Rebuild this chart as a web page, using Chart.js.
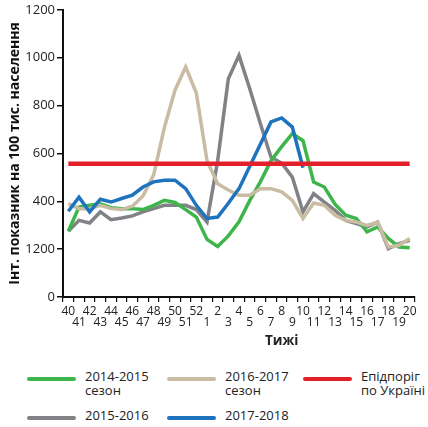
<!DOCTYPE html>
<html>
<head>
<meta charset="utf-8">
<script src="https://cdn.jsdelivr.net/npm/chart.js@4.4.1/dist/chart.umd.min.js"></script>
<style>
  body { margin: 0; background: #fff; font-family: 'Open Sans', sans-serif; color: #222; }
  #wrap { position: relative; width: 428px; height: 427px; }
  #box { position: absolute; left: 0; top: 0; width: 428px; height: 332px; }
  #xtitle { position: absolute; left: 265px; top: 331px; font-weight: bold; font-size: 13.5px; color: #222; }
  .lg { position: absolute; font-size: 13px; line-height: 13.5px; color: #222; white-space: pre; }
  .lg i { position: absolute; left: 0; width: 49px; height: 3.5px; border-radius: 2px; }
  .lg span { position: absolute; left: 58px; top: -7px; }
</style>
</head>
<body>
<div id="wrap">
  <div id="box"><canvas id="chart"></canvas></div>
  <div id="xtitle">Тижі</div>
  <div id="legend"></div>
</div>
<script>
// тижні епідсезону
const weeks = ['40','41','42','43','44','45','46','47','48','49','50','51','52',
  '1','2','3','4','5','6','7','8','9','10','11','12','13','14','15','16','17','18','19','20'];

const season1415 = [280,383,390,397,380,376,376,372,390,411,402,372,340,245,215,260,320,
  410,490,580,640,695,665,489,468,395,348,334,277,298,249,213,210];
const season1516 = [280,326,315,362,329,336,345,362,376,390,390,390,372,319,580,929,1028,
  887,738,595,570,510,362,440,404,369,326,312,298,319,206,227,241];
const season1617 = [397,376,376,390,376,372,386,430,520,720,880,979,868,580,482,455,433,
  433,461,461,447,411,334,400,390,348,326,319,305,319,213,220,249];
const season1718 = [365,425,362,416,404,419,433,468,490,497,497,461,390,334,340,399,461,
  555,650,745,762,723,550,null,null,null,null,null,null,null,null,null,null];
const epidThreshold = 567;

// підписи осі Y (як в оригіналі)
const yTickLabels = ['0','1200','400','600','800','1000','1200'];

const FONT = "'Open Sans', sans-serif";

function ds(label, data, color, width, order) {
  return {
    label: label,
    data: data,
    borderColor: color,
    backgroundColor: color,
    borderWidth: width,
    pointRadius: 0,
    tension: 0,
    borderJoinStyle: 'miter',
    order: order,
    spanGaps: false
  };
}

const datasets = [
  ds('2014-2015\nсезон', season1415, '#3db54a', 3.5, 3),
  ds('2016-2017\nсезон', season1617, '#c9bca3', 3.5, 2),
  ds('Епідпоріг\nпо Україні', weeks.map(() => epidThreshold), '#e3202a', 4.5, 0),
  ds('2015-2016', season1516, '#818286', 3.5, 4),
  ds('2017-2018', season1718, '#1e73be', 3.5, 1)
];

const chart = new Chart(document.getElementById('chart'), {
  type: 'line',
  data: { labels: weeks, datasets: datasets },
  options: {
    responsive: true,
    maintainAspectRatio: false,
    animation: false,
    layout: { padding: { top: 7, right: 13, left: 0, bottom: 0 } },
    plugins: { legend: { display: false }, tooltip: { enabled: false } },
    scales: {
      x: {
        offset: true,
        border: { display: true, color: '#111', width: 2 },
        grid: { display: true, offset: true, drawOnChartArea: false, drawTicks: true, tickLength: 5, color: '#111', lineWidth: 1.2 },
        afterFit: s => { s.height = 35; },
        ticks: {
          autoSkip: false,
          maxRotation: 0,
          padding: 4,
          color: '#222',
          font: { family: FONT, size: 12, lineHeight: 0.9 },
          callback: (v, i) => i % 2 === 0 ? [weeks[i], ''] : ['', weeks[i]]
        }
      },
      y: {
        min: 0,
        max: 1222,
        bounds: 'data',
        border: { display: true, color: '#111', width: 2 },
        grid: { display: true, drawOnChartArea: false, drawTicks: true, tickLength: 6, color: '#111', lineWidth: 1.5 },
        afterFit: s => { s.width = 63; },
        afterBuildTicks: s => { s.max = 1222; },
        ticks: {
          stepSize: 200,
          includeBounds: false,
          autoSkip: false,
          padding: 2,
          color: '#222',
          font: { family: FONT, size: 13 },
          callback: v => yTickLabels[Math.round(v / 200)]
        },
        title: {
          display: true,
          text: 'Інт. показник на 100 тис. населення',
          color: '#111',
          padding: { top: 7, bottom: 0 },
          font: { family: FONT, size: 14, weight: 'bold' }
        }
      }
    }
  }
});

// легенда знизу
const legendPos = [[27, 379], [167, 379], [303, 379], [27, 418], [167, 418]];
const legend = document.getElementById('legend');
chart.data.datasets.forEach((d, i) => {
  const el = document.createElement('div');
  el.className = 'lg';
  el.style.left = legendPos[i][0] + 'px';
  el.style.top = (legendPos[i][1] - 2) + 'px';
  el.innerHTML = '<i style="background:' + d.borderColor + '"></i><span></span>';
  el.querySelector('span').textContent = d.label;
  legend.appendChild(el);
});
</script>
</body>
</html>
